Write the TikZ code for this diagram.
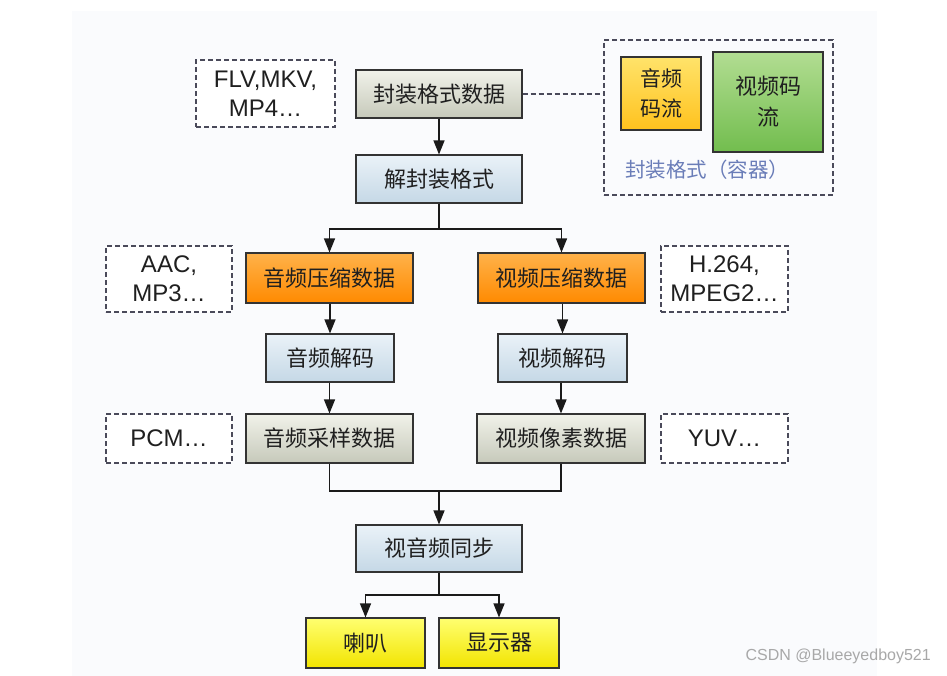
\documentclass[tikz,border=0pt]{standalone}
\usepackage{fontspec}
\setmainfont{Liberation Sans}
\newfontfamily\cjk{Noto Sans CJK SC}
\usetikzlibrary{arrows.meta,shadings}
\definecolor{bgpanel}{HTML}{FAFBFD}
\definecolor{lineblack}{HTML}{1A1A1A}
\definecolor{boxedge}{HTML}{333333}
\definecolor{dashedge}{HTML}{4A4A5A}
\definecolor{graytop}{HTML}{F1F2EA}
\definecolor{graybot}{HTML}{C6C9BA}
\definecolor{bluetop}{HTML}{EAF2F8}
\definecolor{bluebot}{HTML}{C5D8E6}
\definecolor{orangetop}{HTML}{FFB24A}
\definecolor{orangebot}{HTML}{FF8A00}
\definecolor{yellowtop}{HTML}{FFFF70}
\definecolor{yellowbot}{HTML}{F2E400}
\definecolor{audiotop}{HTML}{FFE36A}
\definecolor{audiobot}{HTML}{FFC21E}
\definecolor{greentop}{HTML}{B2DD92}
\definecolor{greenbot}{HTML}{72BD4E}
\definecolor{labelblue}{HTML}{6A7DB8}
\definecolor{markgray}{HTML}{A8A8A8}
\tikzset{
  stagebox/.style={draw=boxedge, line width=1.1pt, minimum height=48pt, inner sep=0pt,
    font=\cjk\fontsize{22}{26}\selectfont, text=black!88},
  graybox/.style={stagebox, top color=graytop, bottom color=graybot},
  bluebox/.style={stagebox, top color=bluetop, bottom color=bluebot},
  orangebox/.style={stagebox, top color=orangetop, bottom color=orangebot},
  yellowbox/.style={stagebox, top color=yellowtop, bottom color=yellowbot},
  longdash/.style={dash pattern=on 5pt off 3pt},
  notebox/.style={draw=dashedge, longdash, line width=1.1pt, fill=white, inner sep=0pt,
    align=center, font=\fontsize{24}{29}\selectfont, text=black!88},
  conn/.style={draw=lineblack, line width=1.3pt},
  arr/.style={conn, -{Triangle[width=11pt,length=14pt]}},
}
\begin{document}
\begin{tikzpicture}[x=1pt,y=-1pt]
\useasboundingbox (0,0) rectangle (947,676);
\fill[white] (0,0) rectangle (947,676);
\fill[bgpanel] (72,11) rectangle (877,676);

% top row
\node[notebox, minimum width=139pt, minimum height=67pt] (flv) at (265.5,93.5) {FLV,MKV,\\MP4…};
\node[graybox, minimum width=166pt] (pack) at (439,94) {封装格式数据};

% container
\node[draw=dashedge, longdash, line width=1.1pt, minimum width=229pt, minimum height=155pt, inner sep=0pt] (cont) at (718.5,117.5) {};
\node[draw=boxedge, line width=1.1pt, top color=audiotop, bottom color=audiobot, minimum width=80pt, minimum height=73pt, inner sep=0pt, align=center, font=\cjk\fontsize{21}{30}\selectfont, text=black!88] (astream) at (661,93.5) {音频\\码流};
\node[draw=boxedge, line width=1.1pt, top color=greentop, bottom color=greenbot, minimum width=110pt, minimum height=100pt, inner sep=0pt, align=center, font=\cjk\fontsize{22}{31}\selectfont, text=black!88] (vstream) at (768,102) {视频码\\流};
\node[font=\cjk\fontsize{20.5}{24}\selectfont, text=labelblue, inner sep=0pt] (contlabel) at (707,170) {封装格式（容器）};

\draw[draw=dashedge, line width=1.3pt, longdash] (pack.east) -- (cont.west |- pack.east);

% demux
\node[bluebox, minimum width=166pt] (demux) at (439,179) {解封装格式};
\draw[arr] (pack.south) -- (demux.north);

% compressed data
\node[orangebox, minimum width=167pt, minimum height=50pt] (acomp) at (329.5,278) {音频压缩数据};
\node[orangebox, minimum width=167pt, minimum height=50pt] (vcomp) at (561.5,278) {视频压缩数据};
\node[notebox, minimum width=126pt, minimum height=66pt] (aac) at (169,279) {AAC,\\MP3…};
\node[notebox, minimum width=127pt, minimum height=66pt] (h264) at (724.5,279) {H.264,\\MPEG2…};

\coordinate (split) at (439,229);
\draw[conn] (demux.south) -- (split);
\draw[arr] (split) -| (acomp.north);
\draw[arr] (split) -| (vcomp.north);

% decoders
\node[bluebox, minimum width=128pt] (adec) at (330,358) {音频解码};
\node[bluebox, minimum width=129pt] (vdec) at (562.5,358) {视频解码};
\draw[arr] (acomp.south -| adec.north) -- (adec.north);
\draw[arr] (vcomp.south -| vdec.north) -- (vdec.north);

% raw data
\node[graybox, minimum width=167pt, minimum height=49pt] (araw) at (329.5,438.5) {音频采样数据};
\node[graybox, minimum width=168pt, minimum height=49pt] (vraw) at (561,438.5) {视频像素数据};
\node[notebox, minimum width=126pt, minimum height=49pt] (pcm) at (169,438.5) {PCM…};
\node[notebox, minimum width=127pt, minimum height=49pt] (yuv) at (724.5,438.5) {YUV…};
\draw[arr] (adec.south -| araw.north) -- (araw.north);
\draw[arr] (vdec.south -| vraw.north) -- (vraw.north);

% sync
\node[bluebox, minimum width=166pt, minimum height=47pt] (sync) at (439,548.5) {视音频同步};
\coordinate (merge) at (439,491);
\draw[conn] (araw.south) |- (merge);
\draw[conn] (vraw.south) |- (merge);
\draw[arr] (merge) -- (sync.north);

% outputs
\node[yellowbox, minimum width=119pt, minimum height=50pt] (spk) at (365.5,643) {喇叭};
\node[yellowbox, minimum width=120pt, minimum height=50pt] (disp) at (499,643) {显示器};
\coordinate (out) at (439,595);
\draw[conn] (sync.south) -- (out);
\draw[arr] (out) -| (spk.north);
\draw[arr] (out) -| (disp.north);

% watermark
\node[font=\fontsize{16}{18}\selectfont, text=markgray, anchor=east, inner sep=0pt] (mark) at (931,656) {CSDN @Blueeyedboy521};
\end{tikzpicture}
\end{document}
